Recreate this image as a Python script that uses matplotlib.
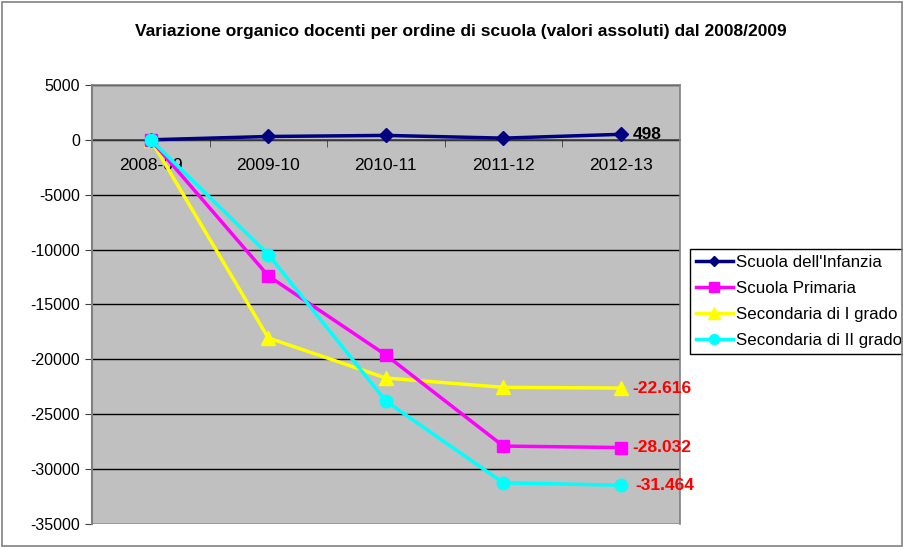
import matplotlib
matplotlib.use("Agg")
import matplotlib.pyplot as plt
from matplotlib.patches import Rectangle

categories = ["2008-09", "2009-10", "2010-11", "2011-12", "2012-13"]
infanzia = [0, 300, 400, 150, 498]
primaria = [0, -12400, -19600, -27900, -28032]
sec1 = [0, -18050, -21700, -22550, -22616]
sec2 = [0, -10450, -23800, -31250, -31464]
yticks = list(range(5000, -35001, -5000))

plt.rcParams['font.family'] = ['Liberation Sans', 'DejaVu Sans']

fig = plt.figure(figsize=(9.04, 5.47), dpi=100)
fig.patch.set_facecolor('white')
fig.patches.append(Rectangle((0.002, 0.002), 0.996, 0.994, transform=fig.transFigure,
                             fill=False, edgecolor='#808080', linewidth=1.2))
ax = fig.add_axes([0.1018, 0.042, 0.650, 0.8028])
ax.set_facecolor('#C0C0C0')
x = list(range(len(categories)))

ax.plot(x, infanzia, color='#000080', marker='D', markersize=7, linewidth=2.5, label="Scuola dell'Infanzia", zorder=5)
ax.plot(x, primaria, color='#FF00FF', marker='s', markersize=9, linewidth=2.5, label="Scuola Primaria", zorder=4)
ax.plot(x, sec1, color='#FFFF00', marker='^', markersize=10, linewidth=2.5, label="Secondaria di I grado", zorder=3)
ax.plot(x, sec2, color='#00FFFF', marker='o', markersize=9, linewidth=2.5, label="Secondaria di II grado", zorder=6)

ax.set_xlim(-0.5, 4.5)
ax.set_ylim(-35000, 5000)
ax.set_yticks(yticks)
ax.set_yticklabels([str(v) for v in yticks], fontsize=11.5)
ax.yaxis.grid(True, color='black', linewidth=1)
ax.set_axisbelow(True)
ax.tick_params(axis='y', length=5, color='#404040', direction='out')

ax.spines['bottom'].set_position(('data', 0))
ax.spines['bottom'].set_color('#404040')
ax.spines['bottom'].set_linewidth(1.2)
ax.spines['bottom'].set_zorder(2)
for s in ['top', 'right']:
    ax.spines[s].set_color('#808080')
    ax.spines[s].set_linewidth(1.2)
ax.spines['left'].set_color('#808080')
ax.spines['left'].set_linewidth(1.5)

ax.set_xticks(x)
ax.set_xticklabels(categories, fontsize=12.5)
ax.tick_params(axis='x', length=0, pad=13)
ax.set_xticks([0.5, 1.5, 2.5, 3.5], minor=True)
ax.tick_params(axis='x', which='minor', length=5, color='#404040', direction='out')

ax.text(4.1, infanzia[-1], "498", fontsize=12.5, fontweight='bold', color='black', va='center', ha='left')
ax.text(4.1, sec1[-1], "-22.616", fontsize=12.5, fontweight='bold', color='#FF0000', va='center', ha='left')
ax.text(4.1, primaria[-1], "-28.032", fontsize=12.5, fontweight='bold', color='#FF0000', va='center', ha='left')
ax.text(4.12, sec2[-1], "-31.464", fontsize=12.5, fontweight='bold', color='#FF0000', va='center', ha='left')

fig.text(0.51, 0.942, "Variazione organico docenti per ordine di scuola (valori assoluti) dal 2008/2009",
         fontsize=12.5, fontweight='bold', ha='center', va='center')

leg = ax.legend(loc='upper left', bbox_to_anchor=(0.763, 0.545), bbox_transform=fig.transFigure,
                fontsize=12.2, frameon=True, fancybox=False, edgecolor='black', framealpha=1,
                borderpad=0.35, labelspacing=0.65, handlelength=2.2, handletextpad=0.2, borderaxespad=0,
                markerscale=0.8)
leg.get_frame().set_linewidth(1)

fig.savefig("out.png", dpi=100)
